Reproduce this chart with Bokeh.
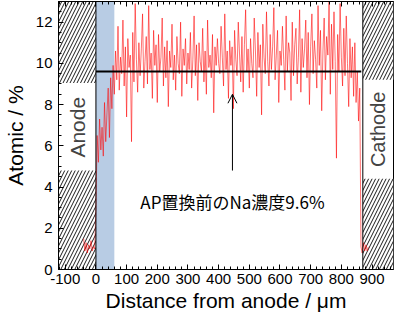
import math
from bokeh.plotting import figure
from bokeh.models import (Range1d, LinearAxis, SingleIntervalTicker, Span, Arrow,
                          OpenHead, Label, BoxAnnotation, CustomJSTickFormatter)
from bokeh.embed import file_html
from bokeh.resources import INLINE

# ---- data ----
anode_x = [-40, -36, -32, -28, -24, -20, -16, -12, -8, -4]
anode_y = [1.5, 0.9, 1.3, 0.8, 1.2, 1.0, 1.4, 0.9, 1.1, 1.0]

main_x = list(range(0, 864, 4))
main_y = [
    3.0, 6.5, 5.2, 7.3, 5.8, 6.9, 5.5, 8.1, 6.2, 7.6, 8.8, 6.4, 9.3, 7.8, 9.9, 8.5,
    10.6, 9.2, 11.8, 8.7, 10.3, 9.5, 12.1, 8.9, 10.8, 7.4, 11.2, 9.8, 10.4, 6.2, 11.5,
    9.1, 12.9, 10.2, 8.6, 11.0, 9.4, 10.7, 12.4, 8.8, 10.1, 11.3, 9.0, 12.8, 9.7, 10.5, 8.3, 11.6, 9.9, 10.9, 8.1,
    11.4, 9.6, 10.3, 12.2, 8.9, 10.8, 9.3, 11.1, 7.9, 10.6, 9.8, 11.9, 9.2, 10.4, 8.7, 11.3, 10.0, 9.5, 12.0, 8.4, 10.7, 9.9, 11.2, 9.0, 10.5,
    9.7, 11.5, 8.8, 10.2, 12.3, 9.4, 10.9, 8.2, 11.0, 10.1, 9.6, 11.7, 9.1, 10.6, 8.5, 12.1, 9.8, 10.4, 9.3, 11.4, 7.6, 10.8, 9.9, 11.2, 10.0,
    9.5, 11.8, 10.3, 8.9, 12.4, 9.7, 10.6, 8.3, 11.1, 9.9, 10.8, 7.8, 11.6, 10.2, 9.4, 12.0, 10.5, 9.1, 11.3, 8.6, 10.9, 12.6, 9.6, 10.7, 8.8,
    11.2, 10.0, 9.3, 12.2, 10.6, 8.4, 11.5, 9.8, 10.9, 7.5, 11.9, 10.3, 9.5, 12.5, 10.1, 8.9, 11.4, 9.7, 10.8, 12.7, 9.2, 10.4, 11.6, 8.1, 10.6,
    9.9, 11.8, 10.2, 8.7, 12.3, 9.6, 11.0, 10.5, 8.2, 12.0, 9.4, 10.9, 11.7, 9.0, 10.3, 12.6, 8.6, 11.2, 9.8, 10.7, 12.1, 9.3, 11.5, 8.0, 10.8,
    12.4, 9.5, 11.1, 10.2, 8.8, 12.8, 9.9, 11.6, 7.7, 10.6, 12.2, 9.2, 11.3, 10.4, 13.0, 8.5, 11.9, 9.7, 12.5, 10.1, 5.4, 11.4, 9.6, 12.9, 10.3,
    8.9, 11.7, 9.4, 12.3, 10.0, 7.9, 11.2, 9.3, 10.8, 8.4, 11.0, 8.1, 9.6, 7.2, 8.8,
]

cathode_x = [864, 868, 872, 876, 880, 884, 888]
cathode_y = [1.1, 0.8, 1.3, 0.9, 1.2, 0.9, 1.1]

avg_x = [0, 865]
avg_y = [9.6, 9.6]

x_ticks_interval = 100
y_ticks_interval = 2
note_text = "AP置換前のNa濃度9.6%"

FONT = "Liberation Sans"

p = figure(width=395, height=314, x_range=Range1d(-122, 970), y_range=Range1d(0, 13),
           output_backend="svg", toolbar_location=None,
           min_border_left=49, min_border_right=2, min_border_top=1, min_border_bottom=44)
p.grid.visible = False
p.outline_line_color = "black"
p.outline_line_width = 1
p.background_fill_color = "white"

# blue band near anode
p.add_layout(BoxAnnotation(left=0, right=60, fill_color="#b8cce4", fill_alpha=1.0,
                           line_color=None, level="underlay"))

# hatched electrode regions
hatch = dict(fill_color="white", line_color=None, hatch_pattern="/", hatch_color="black",
             hatch_scale=7, hatch_weight=0.9)
p.quad(left=[-122, -122], right=[0, 0], bottom=[0, 9.05], top=[4.8, 13], **hatch)
p.quad(left=[870, 870], right=[970, 970], bottom=[0, 9.2], top=[4.4, 13], **hatch)

p.add_layout(Span(location=0, dimension="height", line_color="black", line_width=1))
p.add_layout(Span(location=870, dimension="height", line_color="black", line_width=1))

# data line
all_x = anode_x + main_x + cathode_x
all_y = anode_y + main_y + cathode_y
p.line(all_x, all_y, line_color="#ff0000", line_width=0.8, line_alpha=0.7)

# average line
p.line(avg_x, avg_y, line_color="black", line_width=2)

# arrow and note
p.add_layout(Arrow(end=OpenHead(size=9, line_width=1), x_start=445, y_start=4.8,
                   x_end=445, y_end=8.5, line_width=1))
p.add_layout(Label(x=445, y=3.3, text=note_text, text_align="center", text_baseline="middle",
                   text_font="Noto Sans CJK JP", text_font_size="17px", text_color="black"))

p.add_layout(Label(x=-61, y=6.9, text="Anode", angle=math.pi / 2, text_align="center",
                   text_baseline="middle", text_font=FONT, text_font_size="21px"))
p.add_layout(Label(x=920, y=6.8, text="Cathode", angle=math.pi / 2, text_align="center",
                   text_baseline="middle", text_font=FONT, text_font_size="20px"))

# axes
plain = CustomJSTickFormatter(code="return tick.toString();")
xa = p.xaxis[0]
xa.ticker = SingleIntervalTicker(interval=x_ticks_interval, num_minor_ticks=5)
xa.formatter = plain
ya = p.yaxis[0]
ya.ticker = SingleIntervalTicker(interval=y_ticks_interval, num_minor_ticks=4)
for ax in (xa, ya):
    ax.major_tick_in = 5
    ax.major_tick_out = 0
    ax.minor_tick_in = 3
    ax.minor_tick_out = 0
    ax.axis_line_color = "black"
    ax.major_label_text_font = FONT
    ax.major_label_text_font_size = "15px"
    ax.major_label_text_color = "black"
    ax.axis_label_text_font = FONT
    ax.axis_label_text_font_size = "21px"
    ax.axis_label_text_font_style = "normal"
    ax.axis_label_text_color = "black"
xa.axis_label = "Distance from anode / μm"
ya.axis_label = "Atomic / %"
xa.major_label_standoff = 4
xa.axis_label_standoff = 2
ya.major_label_standoff = 6
ya.axis_label_standoff = 6

top = LinearAxis(ticker=SingleIntervalTicker(interval=x_ticks_interval, num_minor_ticks=5),
                 major_tick_in=5, major_tick_out=0, minor_tick_in=3, minor_tick_out=0,
                 formatter=CustomJSTickFormatter(code="return '';"),
                 major_label_standoff=0)
p.add_layout(top, "above")

open("out.html", "w").write(file_html(p, INLINE))
